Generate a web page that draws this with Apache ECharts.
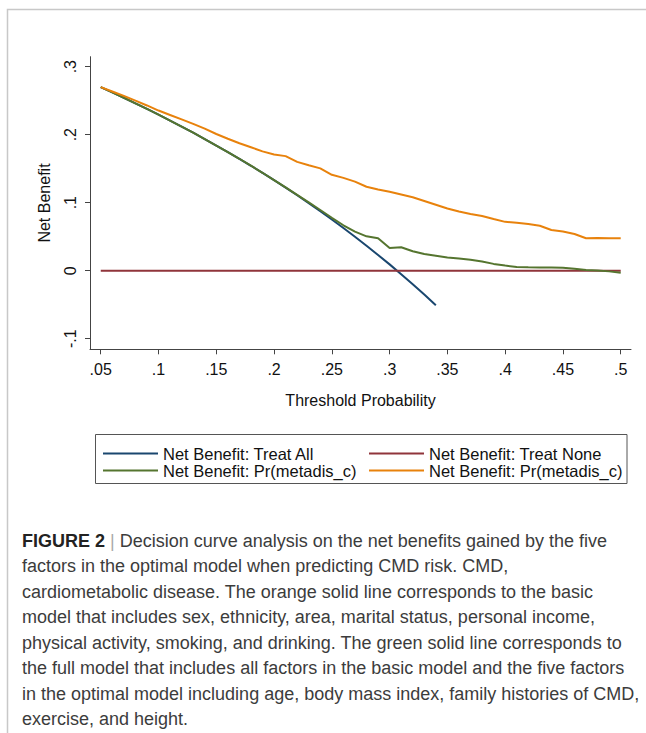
<!DOCTYPE html>
<html>
<head>
<meta charset="utf-8">
<script src="https://cdn.jsdelivr.net/npm/echarts@6/dist/echarts.min.js"></script>
<style>
html,body{margin:0;padding:0;background:#fff;}
#chart{position:absolute;left:0;top:0;width:646px;height:733px;}
</style>
</head>
<body>
<div id="chart"></div>
<script>
// ---- data ----
const thresholds = [0.05,0.06,0.07,0.08,0.09,0.10,0.11,0.12,0.13,0.14,0.15,0.16,0.17,0.18,0.19,0.20,0.21,0.22,0.23,0.24,0.25,0.26,0.27,0.28,0.29,0.30,0.31,0.32,0.33,0.34,0.35,0.36,0.37,0.38,0.39,0.40,0.41,0.42,0.43,0.44,0.45,0.46,0.47,0.48,0.49,0.50];
const treatAll = [0.2700,0.2622,0.2543,0.2462,0.2379,0.2294,0.2208,0.2119,0.2029,0.1936,0.1841,0.1744,0.1645,0.1543,0.1438,0.1331,0.1222,0.1109,0.0994,0.0875,0.0753,0.0628,0.0500,0.0368,0.0232,0.0093,-0.0051,-0.0199,-0.0351,-0.0508];
const treatNone = [0,0,0,0,0,0,0,0,0,0,0,0,0,0,0,0,0,0,0,0,0,0,0,0,0,0,0,0,0,0,0,0,0,0,0,0,0,0,0,0,0,0,0,0,0,0];
const fullModel = [0.2700,0.2622,0.2543,0.2462,0.2379,0.2294,0.2208,0.2119,0.2029,0.1936,0.1841,0.1745,0.1646,0.1544,0.1440,0.1333,0.1226,0.1115,0.1005,0.0892,0.0778,0.0668,0.0575,0.0505,0.0478,0.0335,0.0345,0.0285,0.0245,0.0220,0.0195,0.0180,0.0160,0.0135,0.0100,0.0075,0.0055,0.0050,0.0048,0.0046,0.0044,0.0030,0.0010,0.0003,-0.0010,-0.0030];
const basicModel = [0.2700,0.2635,0.2570,0.2500,0.2430,0.2355,0.2290,0.2225,0.2160,0.2090,0.2010,0.1940,0.1875,0.1815,0.1755,0.1710,0.1685,0.1600,0.1550,0.1505,0.1410,0.1365,0.1310,0.1235,0.1195,0.1160,0.1120,0.1080,0.1025,0.0970,0.0915,0.0870,0.0835,0.0805,0.0760,0.0718,0.0705,0.0685,0.0660,0.0598,0.0575,0.0540,0.0478,0.0482,0.0478,0.0478];
const xTicks = [0.05,0.1,0.15,0.2,0.25,0.3,0.35,0.4,0.45,0.5];
const yTicks = [-0.1,0,0.1,0.2,0.3];
const seriesNames = ['Net Benefit: Treat All','Net Benefit: Treat None','Net Benefit: Pr(metadis_c)','Net Benefit: Pr(metadis_c) '];
const captionLines = [
  'Decision curve analysis on the net benefits gained by the five',
  'factors in the optimal model when predicting CMD risk. CMD,',
  'cardiometabolic disease. The orange solid line corresponds to the basic',
  'model that includes sex, ethnicity, area, marital status, personal income,',
  'physical activity, smoking, and drinking. The green solid line corresponds to',
  'the full model that includes all factors in the basic model and the five factors',
  'in the optimal model including age, body mass index, family histories of CMD,',
  'exercise, and height.'
];

const colors = ['#1a476f','#90353b','#55752f','#e8820c'];
const pairs = vals => vals.map((v,i)=>[thresholds[i], v]);
const fmt = v => {
  const s = String(Math.round(v*100)/100);
  return s.replace(/^0\./,'.').replace(/^-0\./,'-.');
};
const FONT = '"Liberation Sans", Arial, sans-serif';

const chart = echarts.init(document.getElementById('chart'), null, {renderer:'svg'});

const legendPos = [
  {left:103, top:445},
  {left:369, top:445},
  {left:103, top:462},
  {left:369, top:462}
];

const option = {
  animation:false,
  backgroundColor:'#fff',
  grid:{left:90, right:15, top:56.7, bottom:383.7, containLabel:false},
  xAxis:{
    type:'value', min:0.0407, max:0.5089,
    name:'Threshold Probability', nameLocation:'middle', nameGap:43,
    nameTextStyle:{fontFamily:FONT, fontSize:16, color:'#111'},
    axisLine:{show:true, onZero:false, lineStyle:{color:'#444', width:1}},
    axisTick:{show:true, length:5, customValues:xTicks, lineStyle:{color:'#444'}},
    axisLabel:{customValues:xTicks, formatter:fmt, margin:12, fontFamily:FONT, fontSize:16, color:'#111'},
    splitLine:{show:false}
  },
  yAxis:{
    type:'value', min:-0.1156, max:0.3147,
    name:'Net Benefit', nameLocation:'middle', nameGap:38, nameRotate:90,
    nameTextStyle:{fontFamily:FONT, fontSize:16, color:'#111'},
    axisLine:{show:true, onZero:false, lineStyle:{color:'#444', width:1}},
    axisTick:{show:true, length:5, customValues:yTicks, lineStyle:{color:'#444'}},
    axisLabel:{customValues:yTicks, formatter:fmt, rotate:90, margin:12, fontFamily:FONT, fontSize:16, color:'#111'},
    splitLine:{show:false}
  },
  legend: seriesNames.map((n,i)=>({
    data:[n], left:legendPos[i].left, top:legendPos[i].top, padding:0,
    icon:'rect', itemWidth:55, itemHeight:2,
    formatter: name => name.trim(),
    textStyle:{fontFamily:FONT, fontSize:16.5, color:'#111', lineHeight:16.5},
    selectedMode:false
  })),
  series:[
    {name:seriesNames[0], type:'line', data:pairs(treatAll), showSymbol:false, lineStyle:{color:colors[0], width:2}, itemStyle:{color:colors[0]}},
    {name:seriesNames[1], type:'line', data:pairs(treatNone), showSymbol:false, lineStyle:{color:colors[1], width:2}, itemStyle:{color:colors[1]}},
    {name:seriesNames[2], type:'line', data:pairs(fullModel), showSymbol:false, lineStyle:{color:colors[2], width:2}, itemStyle:{color:colors[2]}},
    {name:seriesNames[3], type:'line', data:pairs(basicModel), showSymbol:false, lineStyle:{color:colors[3], width:2}, itemStyle:{color:colors[3]}}
  ],
  graphic:[
    {type:'polyline', shape:{points:[[7.5,733],[7.5,9.5],[646,9.5]]}, style:{stroke:'#c8c8c8', lineWidth:1.5, fill:null}, silent:true},
    {type:'rect', shape:{x:95.5, y:434.5, width:531.5, height:49}, style:{stroke:'#555', lineWidth:1, fill:null}, silent:true},
    {type:'text', left:22, top:528,
      style:{
        text:'{b|FIGURE 2} {s||} ' + captionLines.join('\n'),
        fontFamily:FONT, fontSize:18, lineHeight:25.5, fill:'#3c3c3c',
        rich:{
          b:{fontFamily:FONT, fontSize:18, fontWeight:'bold', fill:'#222', lineHeight:25.5},
          s:{fontFamily:FONT, fontSize:18, fill:'#aaa', lineHeight:25.5}
        }
      }
    }
  ]
};
chart.setOption(option);
</script>
</body>
</html>
